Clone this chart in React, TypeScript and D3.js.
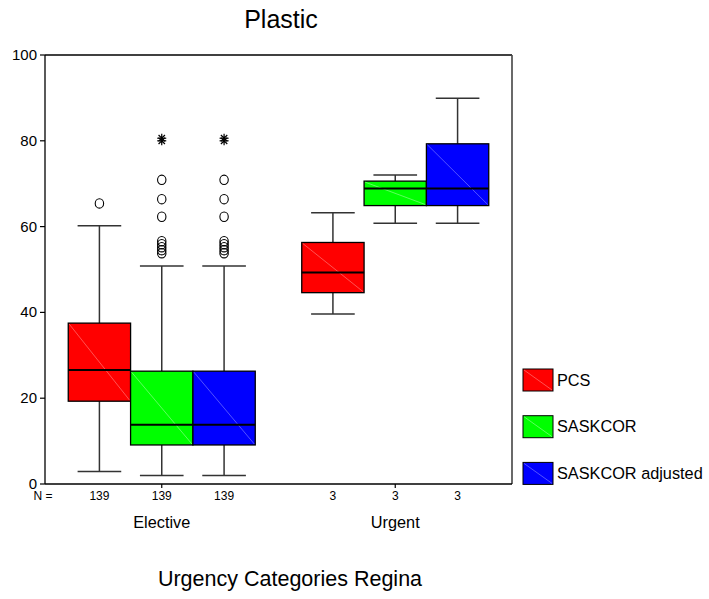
import React from "react";
import * as d3 from "d3";

const title = "Plastic";
const xTitle = "Urgency Categories Regina";
const categories = ["Elective", "Urgent"];
const seriesNames = ["PCS", "SASKCOR", "SASKCOR adjusted"];
const seriesColors = ["#ff0000", "#00ff00", "#0000ff"];
const diagColors = ["#ff8a8a", "#9cff9c", "#8a8aff"];
const yTicks = [0, 20, 40, 60, 80, 100];

// [whiskerLow, q1, median, q3, whiskerHigh] per category
const pcsStats = [
  [2.9, 19.3, 26.6, 37.5, 60.2],
  [39.6, 44.6, 49.3, 56.3, 63.2],
];
const saskcorStats = [
  [2.0, 9.1, 13.8, 26.3, 50.8],
  [60.8, 64.9, 68.9, 70.6, 72.0],
];
const adjustedStats = [
  [2.0, 9.1, 13.8, 26.3, 50.8],
  [60.8, 64.9, 68.9, 79.3, 89.9],
];
const pcsCounts = [139, 3];
const saskcorCounts = [139, 3];
const adjustedCounts = [139, 3];

const pcsOutliers = [[65.4], []];
const saskcorOutliers = [[70.9, 66.4, 62.3, 56.6, 55.9, 55.2, 54.5, 53.8], []];
const adjustedOutliers = [[70.9, 66.4, 62.3, 56.6, 55.9, 55.2, 54.5, 53.8], []];
const pcsExtremes = [[], []];
const saskcorExtremes = [[80.0, 80.6], []];
const adjustedExtremes = [[80.0, 80.6], []];

const allStats = [pcsStats, saskcorStats, adjustedStats];
const allCounts = [pcsCounts, saskcorCounts, adjustedCounts];
const allOutliers = [pcsOutliers, saskcorOutliers, adjustedOutliers];
const allExtremes = [pcsExtremes, saskcorExtremes, adjustedExtremes];

const FONT = "'Liberation Sans', Arial, sans-serif";

export default function App() {
  const left = 45, right = 512, top = 55, bottom = 484;
  const y = d3.scaleLinear().domain([0, 100]).range([bottom, top]);
  const x = d3.scaleBand().domain(categories).range([left, right]).padding(0);
  const sub = d3.scaleBand().domain(seriesNames).range([-93.5, 93.5]).padding(0);
  const bw = sub.bandwidth();
  const capW = bw * 0.7;

  const asterisk = (cx: number, cy: number, key: string) => {
    const r = 4.5;
    const angles = [0, 45, 90, 135];
    return (
      <g key={key} stroke="#000" strokeWidth={1.2}>
        {angles.map((a) => {
          const rad = (a * Math.PI) / 180;
          return (
            <line key={a} x1={cx - r * Math.cos(rad)} y1={cy - r * Math.sin(rad)} x2={cx + r * Math.cos(rad)} y2={cy + r * Math.sin(rad)} />
          );
        })}
      </g>
    );
  };

  return (
    <svg width={709} height={599} style={{ position: "absolute", left: 0, top: 0, background: "#fff" }} fontFamily={FONT}>
      <rect x={0} y={0} width={709} height={599} fill="#fff" />
      <text x={281} y={28} textAnchor="middle" fontSize={25}>{title}</text>

      {/* frame */}
      <line x1={left} y1={top} x2={right} y2={top} stroke="#000" strokeWidth={1.3} />
      <line x1={right} y1={top} x2={right} y2={bottom} stroke="#444" strokeWidth={1.6} />
      <line x1={left} y1={top} x2={left} y2={bottom} stroke="#000" strokeWidth={1.3} />
      <line x1={left} y1={bottom} x2={right} y2={bottom} stroke="#000" strokeWidth={1.3} />

      {yTicks.map((t) => (
        <g key={t}>
          <line x1={left - 5} x2={left} y1={y(t)} y2={y(t)} stroke="#000" strokeWidth={1.2} />
          <text x={left - 8} y={y(t) + 5} textAnchor="end" fontSize={15}>{t}</text>
        </g>
      ))}

      {categories.map((c) => {
        const cx = (x(c) as number) + x.bandwidth() / 2;
        return (
          <g key={c}>
            <line x1={cx} x2={cx} y1={bottom} y2={bottom + 4} stroke="#000" strokeWidth={1.2} />
            <text x={cx} y={528} textAnchor="middle" fontSize={16.3}>{c}</text>
          </g>
        );
      })}

      <text x={43} y={500} textAnchor="middle" fontSize={12}>N =</text>

      {categories.map((c, ci) => {
        const cx0 = (x(c) as number) + x.bandwidth() / 2;
        return seriesNames.map((s, si) => {
          const [lo, q1, med, q3, hi] = allStats[si][ci];
          const bx = cx0 + (sub(s) as number);
          const mx = bx + bw / 2;
          return (
            <g key={c + s}>
              <line x1={mx} x2={mx} y1={y(q3)} y2={y(hi)} stroke="#333" strokeWidth={1.5} />
              <line x1={mx} x2={mx} y1={y(q1)} y2={y(lo)} stroke="#333" strokeWidth={1.5} />
              <line x1={mx - capW / 2} x2={mx + capW / 2} y1={y(hi)} y2={y(hi)} stroke="#333" strokeWidth={1.5} />
              <line x1={mx - capW / 2} x2={mx + capW / 2} y1={y(lo)} y2={y(lo)} stroke="#333" strokeWidth={1.5} />
              <rect x={bx} y={y(q3)} width={bw} height={y(q1) - y(q3)} fill={seriesColors[si]} stroke="#000" strokeWidth={1.3} />
              <line x1={bx + 1} y1={y(q3) + 1} x2={bx + bw - 1} y2={y(q1) - 1} stroke={diagColors[si]} strokeWidth={0.6} />
              <line x1={bx} x2={bx + bw} y1={y(med)} y2={y(med)} stroke="#000" strokeWidth={2} />
              {allOutliers[si][ci].map((v, k) => (
                <ellipse key={k} cx={mx} cy={y(v)} rx={4.2} ry={4.7} fill="none" stroke="#000" strokeWidth={1.1} />
              ))}
              {allExtremes[si][ci].map((v, k) => asterisk(mx, y(v), "e" + k))}
              <text x={mx} y={500} textAnchor="middle" fontSize={12}>{allCounts[si][ci]}</text>
            </g>
          );
        });
      })}

      <text x={290} y={586} textAnchor="middle" fontSize={21.5}>{xTitle}</text>

      {seriesNames.map((s, i) => {
        const ty = 369 + i * 46.7;
        return (
          <g key={s}>
            <rect x={523} y={ty} width={30} height={22} fill={seriesColors[i]} stroke="#000" strokeWidth={1} />
            <line x1={524} y1={ty + 1} x2={552} y2={ty + 21} stroke={diagColors[i]} strokeWidth={0.6} />
            <text x={557} y={ty + 16.5} fontSize={16.3}>{s}</text>
          </g>
        );
      })}
    </svg>
  );
}
